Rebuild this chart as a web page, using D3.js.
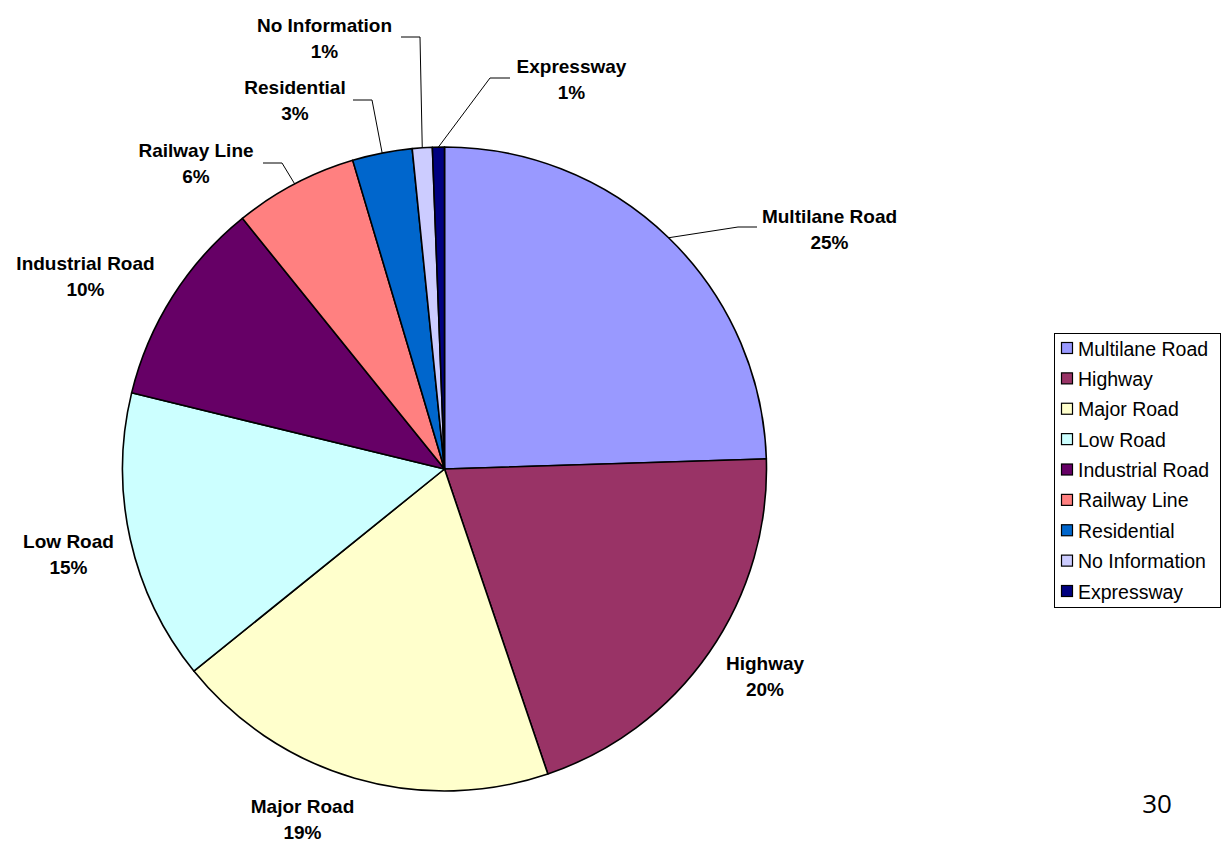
<!DOCTYPE html>
<html>
<head>
<meta charset="utf-8">
<script src="https://cdn.jsdelivr.net/npm/d3@7"></script>
<style>
  html, body { margin: 0; padding: 0; background: #fff; }
  svg { display: block; }
</style>
</head>
<body>
<svg id="chart" width="1227" height="843"></svg>
<script>
// ---- data ----
const categories = ["Multilane Road", "Highway", "Major Road", "Low Road", "Industrial Road",
                    "Railway Line", "Residential", "No Information", "Expressway"];
const shares = [24.5, 20.3, 19.4, 14.6, 10.4, 6.2, 3.0, 1.0, 0.6];
const colors = ["#9999FF", "#993366", "#FFFFCC", "#CCFFFF", "#660066",
                "#FF8080", "#0066CC", "#CCCCFF", "#000080"];
const pageNumber = "30";

// ---- layout (label anchors relative to pie center: text center x, first baseline y) ----
const labelOffsets = [
  [385, -246], [320.5, 201], [-142, 344], [-376, 79], [-359, -199],
  [-248.5, -312], [-149.5, -375], [-120, -437], [127, -396]
];
// leader line: [elbow dx, elbow dy, end dx, end dy] relative to center; null = none
const leaderLines = [
  [293.5, -242, 312.5, -242], null, null, null, null,
  [-162.5, -306, -181.5, -306], [-72.5, -369, -91.5, -369], [-24.5, -432, -43.5, -432], [45.5, -391, 65.5, -391]
];

const svg = d3.select("#chart");
const cx = 444.5, cy = 469, R = 322;
const g = svg.append("g").attr("transform", `translate(${cx},${cy})`);

const pie = d3.pie().sort(null).value(d => d.v);
const data = categories.map((c, i) => ({ c, v: shares[i], color: colors[i], i }));
const arcs = pie(data);
const arc = d3.arc().innerRadius(0).outerRadius(R);
const total = d3.sum(shares);

g.selectAll("path.slice").data(arcs).enter().append("path")
  .attr("class", "slice")
  .attr("d", arc)
  .attr("fill", d => d.data.color)
  .attr("stroke", "#000")
  .attr("stroke-width", 1.6)
  .attr("stroke-linejoin", "round");

// leader lines
arcs.forEach((a, i) => {
  const L = leaderLines[i];
  if (!L) return;
  const mid = (a.startAngle + a.endAngle) / 2;
  const px = Math.sin(mid) * R, py = -Math.cos(mid) * R;
  g.append("polyline")
    .attr("points", `${px},${py} ${L[0]},${L[1]} ${L[2]},${L[3]}`)
    .attr("fill", "none").attr("stroke", "#000").attr("stroke-width", 1);
});

// labels
arcs.forEach((a, i) => {
  const [dx, dy] = labelOffsets[i];
  const t = g.append("text")
    .attr("x", dx).attr("y", dy)
    .attr("text-anchor", "middle")
    .attr("font-family", "Liberation Sans, Arial, sans-serif")
    .attr("font-weight", "bold")
    .attr("font-size", 19)
    .attr("fill", "#000");
  t.append("tspan").attr("x", dx).attr("dy", 0).text(a.data.c);
  t.append("tspan").attr("x", dx).attr("dy", 26).text(Math.round(a.data.v / total * 100) + "%");
});

// legend
const lg = svg.append("g").attr("transform", "translate(1054.5,333.5)");
lg.append("rect").attr("width", 166).attr("height", 274)
  .attr("fill", "#fff").attr("stroke", "#000").attr("stroke-width", 1);
const ly = d3.scalePoint().domain(categories).range([15, 258]);
const items = lg.selectAll("g.item").data(data).enter().append("g")
  .attr("class", "item")
  .attr("transform", d => `translate(0,${ly(d.c)})`);
items.append("rect").attr("x", 7).attr("y", -6).attr("width", 11).attr("height", 11)
  .attr("fill", d => d.color).attr("stroke", "#000").attr("stroke-width", 1.2);
items.append("text").attr("x", 23.5).attr("y", 7)
  .attr("font-family", "Liberation Sans, Arial, sans-serif")
  .attr("font-size", 19.5).attr("fill", "#000")
  .text(d => d.c);

// page number
svg.append("text").attr("x", 1157).attr("y", 813).attr("text-anchor", "middle")
  .attr("font-family", "Open Sans, sans-serif").attr("font-size", 26).attr("fill", "#000")
  .text(pageNumber);
</script>
</body>
</html>
